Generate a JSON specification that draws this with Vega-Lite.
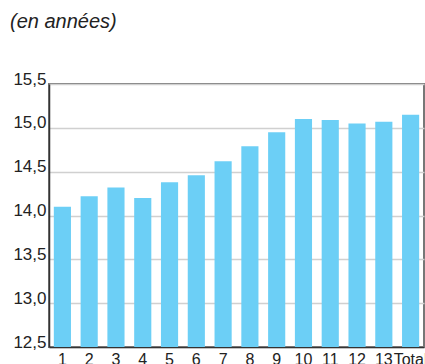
{
  "$schema": "https://vega.github.io/schema/vega-lite/v6.json",
  "width": 375,
  "height": 263,
  "autosize": {"type": "none"},
  "padding": {"left": 49, "top": 84, "right": 1, "bottom": 17},
  "background": "white",
  "title": {
    "text": "(en années)",
    "anchor": "start",
    "frame": "group",
    "dx": -39,
    "offset": 38,
    "font": "Liberation Sans",
    "fontSize": 20,
    "fontStyle": "italic",
    "fontWeight": "normal",
    "color": "#222222"
  },
  "data": {
    "values": [
      {"cat": "1", "v": 14.10},
      {"cat": "2", "v": 14.22},
      {"cat": "3", "v": 14.32},
      {"cat": "4", "v": 14.20},
      {"cat": "5", "v": 14.38},
      {"cat": "6", "v": 14.46},
      {"cat": "7", "v": 14.62},
      {"cat": "8", "v": 14.79},
      {"cat": "9", "v": 14.95},
      {"cat": "10", "v": 15.10},
      {"cat": "11", "v": 15.09},
      {"cat": "12", "v": 15.05},
      {"cat": "13", "v": 15.07},
      {"cat": "Total", "v": 15.15}
    ]
  },
  "mark": {"type": "bar", "color": "#6ccff6", "clip": true},
  "encoding": {
    "x": {
      "field": "cat",
      "type": "ordinal",
      "sort": null,
      "scale": {"paddingInner": 0.36, "paddingOuter": 0.18},
      "axis": {
        "title": null,
        "labelAngle": 0,
        "ticks": false,
        "labelPadding": 4,
        "labelFont": "Liberation Sans",
        "labelFontSize": 16,
        "labelColor": "#222222",
        "domainColor": "#333333",
        "domainWidth": 1.5,
        "labelOverlap": false,
        "labelBound": false
      }
    },
    "y": {
      "field": "v",
      "type": "quantitative",
      "scale": {"domain": [12.5, 15.5], "zero": false, "nice": false},
      "axis": {
        "title": null,
        "values": [12.5, 13, 13.5, 14, 14.5, 15, 15.5],
        "labelExpr": "replace(format(datum.value, '.1f'), '.', ',')",
        "ticks": false,
        "labelPadding": 3,
        "labelBaseline": "alphabetic",
        "labelFont": "Liberation Sans",
        "labelFontSize": 17,
        "labelColor": "#222222",
        "domainColor": "#333333",
        "domainWidth": 1.5,
        "gridColor": "#d0d0d0",
        "gridWidth": 1.5
      }
    }
  },
  "config": {
    "view": {"stroke": "#777777", "strokeWidth": 2}
  }
}
